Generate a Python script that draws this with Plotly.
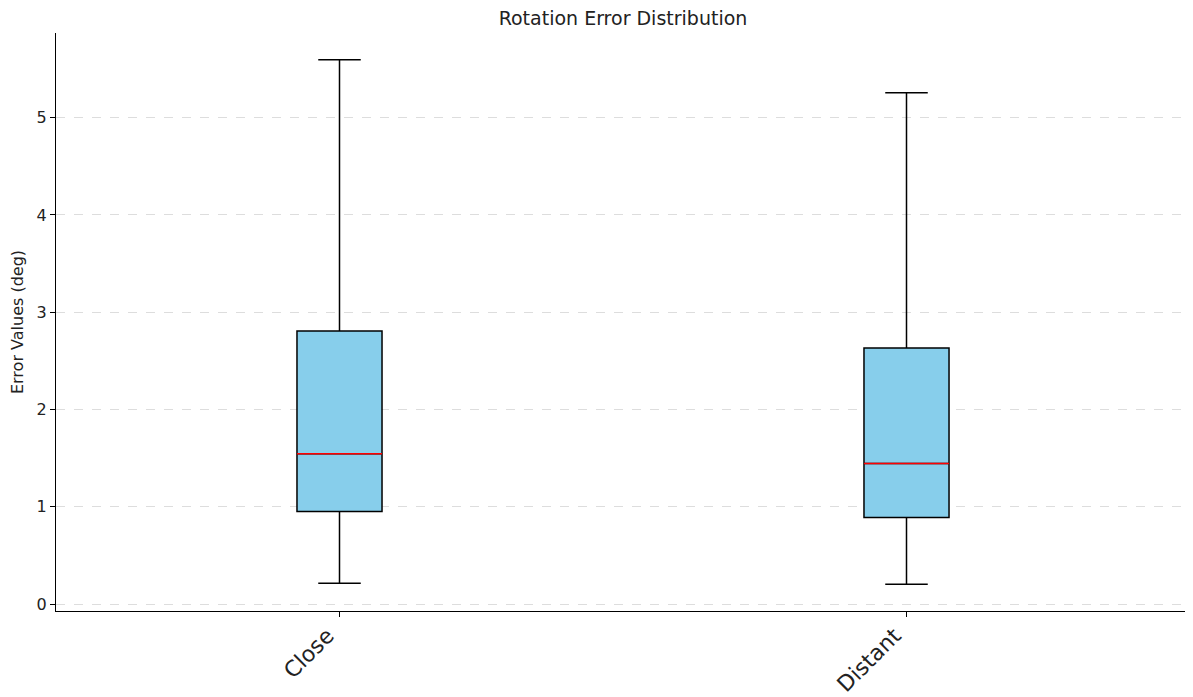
import plotly.graph_objects as go

categories = ["Close", "Distant"]
lower_whisker = [0.215, 0.205]
q1_values = [0.953, 0.891]
medians = [1.547, 1.445]
q3_values = [2.807, 2.633]
upper_whisker = [5.594, 5.256]
y_ticks = [0, 1, 2, 3, 4, 5]

positions = list(range(len(categories)))
box_width = 0.15

fig = go.Figure()
fig.add_trace(go.Box(
    x=positions,
    q1=q1_values, median=medians, q3=q3_values,
    lowerfence=lower_whisker, upperfence=upper_whisker,
    width=box_width,
    whiskerwidth=0.5,
    fillcolor="#87CEEB",
    line=dict(color="black", width=1.5),
    boxpoints=False,
    showlegend=False,
    hoverinfo="skip",
))

for p, m in zip(positions, medians):
    fig.add_trace(go.Scatter(
        x=[p - box_width / 2, p + box_width / 2], y=[m, m],
        mode="lines", line=dict(color="red", width=1.5),
        showlegend=False, hoverinfo="skip",
    ))

fig.update_layout(
    width=1185, height=689,
    margin=dict(l=48, r=3, t=25, b=86, autoexpand=False),
    plot_bgcolor="white", paper_bgcolor="white",
    font=dict(family="DejaVu Sans", color="black"),
    title=dict(text="Rotation Error Distribution", x=0.5, xanchor="center",
               xref="paper",
               y=0.985, yanchor="middle", font=dict(size=19, color="#222222")),
)
fig.update_xaxes(
    range=[-0.5, 1.5],
    tickmode="array", tickvals=positions, ticktext=categories,
    tickangle=-45, tickfont=dict(size=22, color="#222222"),
    ticklabelshift=-12, ticklabelstandoff=-3,
    ticks="outside", ticklen=5, tickcolor="black",
    showline=True, linecolor="black", linewidth=1.2,
    showgrid=False, zeroline=False, automargin=False,
)
fig.update_yaxes(
    range=[-0.07, 5.87],
    tickmode="array", tickvals=y_ticks,
    tickfont=dict(size=16, color="#222222"),
    ticks="outside", ticklen=5, tickcolor="black",
    showline=True, linecolor="black", linewidth=1.2,
    showgrid=True, gridcolor="#dddddd", griddash="dash", gridwidth=1,
    zeroline=False, automargin=False,
    title=dict(text="Error Values (deg)", font=dict(size=16, color="#222222"), standoff=10),
)

fig.write_html("out.html")
